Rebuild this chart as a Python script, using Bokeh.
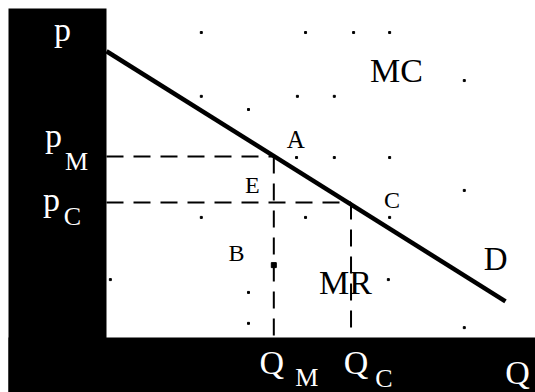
from bokeh.plotting import figure
from bokeh.models import Label, Range1d
from bokeh.embed import file_html
from bokeh.resources import INLINE

# Demand curve D (quantity, price)
demand_q = [0, 93]
demand_p = [87, 11]
p_max = 87
q_max = 100
p_top = 100
# Monopoly (M) and competitive (C) outcomes
q_m, p_m = 39, 55
q_c, p_c = 57, 41
# small point marked on the monopoly quantity line
b_q, b_p = 39, 22
# background speckle dots
dot_q = [22.1, 46.4, 57.6, 66.0, 83.4, 22.1, 44.5, 53.1, 33.1, 44.3, 53.1, 66.0,
         83.4, 22.1, 46.4, 66.0, 0.9, 33.1, 33.1, 65.7, 83.4]
dot_p = [92.7, 92.7, 92.7, 92.7, 78.1, 73.3, 73.3, 73.3, 69.3, 54.7, 54.7, 54.7,
         44.7, 36.5, 36.5, 36.5, 17.6, 13.7, 4.3, 17.6, 3.0]
# in-plot curve / area labels
area_text = ["MC", "MR", "D", "E", "B"]
area_q = [67.6, 55.7, 90.7, 34.0, 30.3]
area_p = [81.2, 16.7, 24.0, 46.5, 25.8]
area_size = ["34px", "34px", "33px", "24px", "24px"]

FONT = "Liberation Serif"

W, H = 535, 392
left_px, bottom_px, margin_px = 106, 55, 8
sx = (W - left_px) / q_max                    # px per quantity unit
sy = (H - bottom_px - margin_px) / p_top      # px per price unit
x0, x1 = -left_px / sx, q_max
y0, y1 = -bottom_px / sy, p_top + margin_px / sy
xm = x0 + margin_px / sx

p = figure(width=W, height=H, output_backend="svg", toolbar_location=None,
           x_range=Range1d(x0, x1), y_range=Range1d(y0, y1),
           x_axis_location=None, y_axis_location=None,
           min_border=0, border_fill_color="white", background_fill_color="white",
           outline_line_color=None)
p.grid.visible = False

# black axis bands (left and bottom)
p.quad(left=[xm, xm], right=[0, x1], bottom=[y0, y0], top=[p_top, 0],
       fill_color="black", line_color=None)

# dashed guide lines
dash = "17 10"
p.line([0, q_m], [p_m, p_m], line_color="black", line_width=2, line_dash=dash)
p.line([q_m, q_m], [p_m, 0], line_color="black", line_width=2, line_dash=dash)
p.line([0, q_c], [p_c, p_c], line_color="black", line_width=2, line_dash=dash)
p.line([q_c, q_c], [p_c, 0], line_color="black", line_width=2, line_dash=dash)

# demand curve
p.line(demand_q, demand_p, line_color="black", line_width=4.5)

# speckle dots
p.scatter(dot_q, dot_p, marker="square", size=2, color="black")
p.scatter([b_q], [b_p], marker="square", size=5, color="black")

# in-plot labels
for t, q, v, s in zip(area_text, area_q, area_p, area_size):
    p.add_layout(Label(x=q, y=v, text=t, text_font=FONT, text_font_size=s,
                       text_align="center", text_baseline="middle", text_color="black"))
p.add_layout(Label(x=q_m, y=p_m, x_offset=22, y_offset=17, text="A", text_font=FONT,
                   text_font_size="25px", text_align="center", text_baseline="middle",
                   text_color="black"))
p.add_layout(Label(x=q_c, y=p_c, x_offset=41, y_offset=3, text="C", text_font=FONT,
                   text_font_size="24px", text_align="center", text_baseline="middle",
                   text_color="black"))

# axis labels in white on the black bands
def wlabel(x, y, xo, yo, t, size):
    p.add_layout(Label(x=x, y=y, x_offset=xo, y_offset=yo + 10, text=t, text_font=FONT,
                       text_font_size=size, text_color="white",
                       text_align="center", text_baseline="alphabetic"))

MAIN, SUB = "34px", "26px"
wlabel(0, p_max, -44, 12, "p", MAIN)
wlabel(0, p_m, -53, 11, "p", MAIN)
wlabel(0, p_m, -30, -15, "M", SUB)
wlabel(0, p_c, -55, -7, "p", MAIN)
wlabel(0, p_c, -34, -24, "C", SUB)
wlabel(q_m, 0, -2, -35, "Q", MAIN)
wlabel(q_m, 0, 33, -50, "M", SUB)
wlabel(q_c, 0, 5, -35, "Q", MAIN)
wlabel(q_c, 0, 33, -51, "C", SUB)
wlabel(q_max, 0, -18, -45, "Q", MAIN)

open("out.html", "w").write(file_html(p, INLINE))
